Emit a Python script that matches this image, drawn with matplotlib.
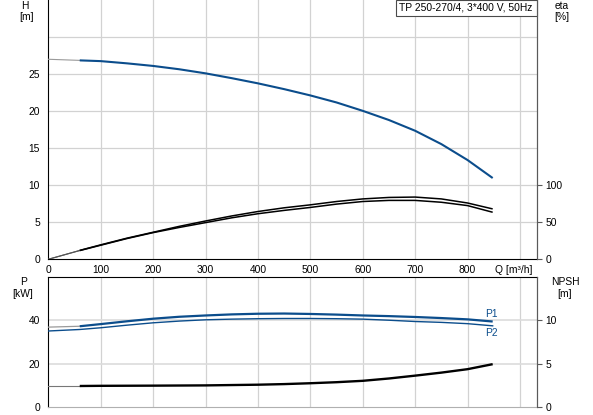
import matplotlib
matplotlib.use("Agg")
import matplotlib.pyplot as plt
from matplotlib.patches import Rectangle
from matplotlib.transforms import blended_transform_factory

# ---------------- data ----------------
Q = [0, 60, 100, 150, 200, 250, 300, 350, 400, 450, 500, 550, 600, 650, 700, 750, 800, 848]
H = [27.0, 26.85, 26.75, 26.45, 26.1, 25.65, 25.1, 24.45, 23.75, 22.97, 22.12, 21.17,
     20.04, 18.8, 17.35, 15.55, 13.4, 10.97]
ETA_1 = [0, 12, 19.5, 28.5, 36.5, 44.5, 51.7, 58.5, 64.5, 69.5, 73.5, 78, 81.5, 83.5,
         84, 81.5, 76, 68]
ETA_2 = [0, 11.8, 19, 28, 36, 43, 49.5, 56, 61.5, 66, 70, 74.5, 78, 79.5, 79.5, 77,
         72.5, 63.5]
P1 = [36.9, 37.3, 38.3, 39.6, 40.8, 41.7, 42.3, 42.8, 43.1, 43.2, 43.0, 42.7, 42.3,
      42.0, 41.6, 41.1, 40.5, 39.5]
P2 = [35.1, 35.8, 36.6, 37.8, 38.9, 39.7, 40.3, 40.6, 40.8, 40.9, 40.9, 40.8, 40.6,
      40.1, 39.5, 39.1, 38.5, 37.5]
NPSH = [2.4, 2.4, 2.42, 2.43, 2.44, 2.455, 2.47, 2.51, 2.55, 2.62, 2.72, 2.84, 3.0,
        3.27, 3.6, 3.95, 4.35, 4.93]

Q_TICKS = [0, 100, 200, 300, 400, 500, 600, 700, 800]
H_TICKS = [0, 5, 10, 15, 20, 25]
ETA_TICKS = [0, 50, 100]
P_TICKS = [0, 20, 40]
NPSH_TICKS = [0, 5, 10]
TITLE = "TP 250-270/4, 3*400 V, 50Hz"

# ---------------- style ----------------
plt.rcParams['font.family'] = ['Liberation Sans', 'DejaVu Sans']
FS = 7.4
BLUE = '#0b4d8c'
GRAY_EXT = '#9a9a9a'
GRID = '#d2d2d2'
RSPINE = '#5a5a5a'

W, Hpx = 593, 415
fig = plt.figure(figsize=(W / 100, Hpx / 100), dpi=100)

def fx(px):
    return px / W

def fy(py):
    return 1 - py / Hpx

x0, x1 = 48.3, 536.7
ax = fig.add_axes([fx(x0), fy(259.3), fx(x1) - fx(x0), fy(0) - fy(259.3)])
axb = fig.add_axes([fx(x0), fy(406.7), fx(x1) - fx(x0), fy(277.3) - fy(406.7)])

XMAX = 932
for a in (ax, axb):
    a.set_xlim(0, XMAX)
    a.grid(False)
    for v in range(100, 1000, 100):
        a.axvline(v, color=GRID, lw=0.9, zorder=0)
    a.spines['left'].set_color('black')
    a.spines['right'].set_color(RSPINE)

# ---------- top axes ----------
ax.set_ylim(0, 35)
for v in range(5, 35, 5):
    ax.axhline(v, color=GRID, lw=0.9, zorder=0)
ax.set_yticks(H_TICKS)
ax.set_yticklabels([str(t) for t in H_TICKS])
ax.set_xticks(Q_TICKS)
ax.set_xticklabels([str(t) for t in Q_TICKS])
ax.tick_params(axis='both', length=0, labelsize=FS)
ax.tick_params(axis='y', pad=6)
ax.tick_params(axis='x', pad=4)
ax.spines['top'].set_visible(False)
ax.spines['bottom'].set_color('black')
trans = blended_transform_factory(ax.transData, ax.transAxes)
ax.text(889, -0.041, "Q [m³/h]", transform=trans, ha='center', va='center',
        fontsize=FS)

ax.plot(Q[:2], H[:2], color=GRAY_EXT, lw=0.8, zorder=3)
ax.plot(Q[1:], H[1:], color=BLUE, lw=1.5, zorder=3, solid_capstyle='butt')

axe = ax.twinx()
axe.set_ylim(0, 350)
axe.set_yticks(ETA_TICKS)
axe.set_yticklabels([str(t) for t in ETA_TICKS])
axe.tick_params(axis='y', length=3.3, width=0.8, color=RSPINE, pad=3, labelsize=FS)
axe.spines['top'].set_visible(False)
axe.spines['right'].set_color(RSPINE)
axe.spines['left'].set_visible(False)
axe.spines['bottom'].set_visible(False)
for e in (ETA_1, ETA_2):
    axe.plot(Q[:2], e[:2], color='#555555', lw=0.8, zorder=3)
    axe.plot(Q[1:], e[1:], color='black', lw=1.1, zorder=3, solid_capstyle='butt')

# title box
ax.add_patch(Rectangle(((395.7 - x0) / (x1 - x0), 1 - 15.7 / 259.3),
                       (x1 - 395.7) / (x1 - x0), 15.7 / 259.3,
                       transform=ax.transAxes, facecolor='white',
                       edgecolor='#4a4a4a', lw=0.8, zorder=5, clip_on=False))
ax.text(((398.7 + 533.3) / 2 - x0) / (x1 - x0), 1 - 7.8 / 259.3, TITLE,
        transform=ax.transAxes, ha='center', va='center', fontsize=7.4, zorder=6)

# ---------- bottom axes ----------
axb.set_ylim(0, 60)
for v in (20, 40):
    axb.axhline(v, color='#dcdcdc', lw=1.2, zorder=0)
axb.set_yticks(P_TICKS)
axb.set_yticklabels([str(t) for t in P_TICKS])
axb.set_xticks([])
axb.tick_params(axis='y', length=0, pad=6, labelsize=FS)
axb.spines['top'].set_color('black')
axb.spines['bottom'].set_color('#b0b0b0')

axb.plot(Q[:2], P1[:2], color=GRAY_EXT, lw=0.9, zorder=3)
axb.plot(Q[1:], P1[1:], color=BLUE, lw=1.6, zorder=3, solid_capstyle='butt')
axb.plot(Q, P2, color=BLUE, lw=1.0, zorder=3)
axb.text(846, P1[-1] + 3.4, "P1", color=BLUE, fontsize=FS, ha='center', va='center')
axb.text(846, P2[-1] - 3.4, "P2", color=BLUE, fontsize=FS, ha='center', va='center')

axn = axb.twinx()
axn.set_ylim(0, 15)
axn.set_yticks(NPSH_TICKS)
axn.set_yticklabels([str(t) for t in NPSH_TICKS])
axn.tick_params(axis='y', length=3.3, width=0.8, color=RSPINE, pad=3, labelsize=FS)
axn.spines['right'].set_color(RSPINE)
axn.spines['left'].set_visible(False)
axn.spines['top'].set_visible(False)
axn.spines['bottom'].set_visible(False)
axn.plot(Q[:2], NPSH[:2], color='#777777', lw=0.8, zorder=3)
axn.plot(Q[1:], NPSH[1:], color='black', lw=1.7, zorder=3, solid_capstyle='butt')

# ---------- axis titles ----------
fig.text(fx(25), fy(6), "H", ha='center', va='center', fontsize=FS)
fig.text(fx(26.7), fy(17), "[m]", ha='center', va='center', fontsize=FS)
fig.text(fx(561.7), fy(6), "eta", ha='center', va='center', fontsize=FS)
fig.text(fx(561.7), fy(17), "[%]", ha='center', va='center', fontsize=FS)
fig.text(fx(23.3), fy(282.3), "P", ha='center', va='center', fontsize=FS)
fig.text(fx(22.7), fy(293.7), "[kW]", ha='center', va='center', fontsize=FS)
fig.text(fx(565), fy(282.3), "NPSH", ha='center', va='center', fontsize=FS)
fig.text(fx(565), fy(293.7), "[m]", ha='center', va='center', fontsize=FS)

fig.savefig("out.png", dpi=100, facecolor='white')
